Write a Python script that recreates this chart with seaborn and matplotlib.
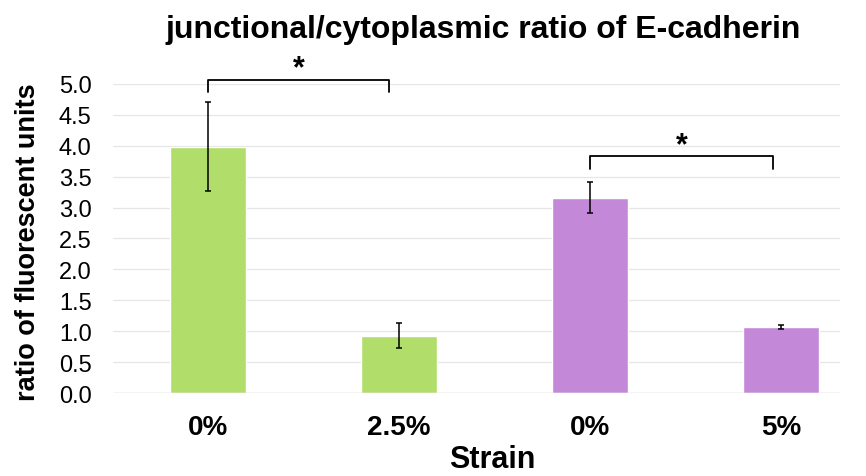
import matplotlib
matplotlib.use("Agg")
import matplotlib.pyplot as plt
import pandas as pd
import seaborn as sns

# data
groups = ["g1_0", "g1_25", "g2_0", "g2_5"]
tick_labels = ["0%", "2.5%", "0%", "5%"]
ratios = [3.98, 0.93, 3.16, 1.07]
errors = [0.72, 0.21, 0.25, 0.03]
bar_colors = ["#b1de6a", "#b1de6a", "#c488d8", "#c488d8"]

# significance brackets: (left bar, right bar, y top, y leg bottom)
brackets = [(0, 0.95, 5.07, 4.87), (2, 2.96, 3.83, 3.63)]

sns.set_theme(style="whitegrid")
plt.rcParams["font.family"] = ["Liberation Sans", "DejaVu Sans"]
plt.rcParams["text.color"] = "black"
plt.rcParams["axes.labelcolor"] = "black"
plt.rcParams["xtick.color"] = "black"
plt.rcParams["ytick.color"] = "black"

df = pd.DataFrame({"group": groups, "ratio": ratios})

fig = plt.figure(figsize=(8.66, 4.77), dpi=100)
ax = fig.add_axes([0.130, 0.174, 0.840, 0.648])

sns.barplot(data=df, x="group", y="ratio", hue="group", palette=bar_colors,
            order=groups, width=0.4, legend=False, errorbar=None, ax=ax,
            saturation=1)
ax.errorbar(range(len(groups)), ratios, yerr=errors, fmt="none",
            ecolor="black", elinewidth=1.1, capsize=2.5, capthick=1.1)

for x0, x1, ytop, ybot in brackets:
    ax.plot([x0, x0, x1, x1], [ybot, ytop, ytop, ybot], color="black",
            lw=1.3, clip_on=False)
    ax.text((x0 + x1) / 2, ytop - 0.06, "*", ha="center", va="bottom",
            fontsize=22, fontweight="bold", clip_on=False)

ax.set_ylim(0, 5.0)
ax.set_xlim(-0.5, 3.31)
ax.set_yticks([i * 0.5 for i in range(11)])
ax.set_yticklabels([f"{i * 0.5:.1f}" for i in range(11)], fontsize=17)
ax.set_xticks(range(len(groups)))
ax.set_xticklabels(tick_labels, fontsize=20, fontweight="bold")
ax.tick_params(axis="x", pad=9)
ax.tick_params(axis="y", pad=15, length=0)
ax.grid(axis="y", color="#e6e6e6", lw=0.9)
ax.grid(axis="x", visible=False)
for s in ax.spines.values():
    s.set_visible(False)
ax.axhline(0, color="#d9d9d9", lw=1)

ax.set_xlabel("Strain", fontsize=22, fontweight="bold")
ax.xaxis.set_label_coords(0.522, -0.165)
ax.set_ylabel("ratio of fluorescent units", fontsize=19.5, fontweight="bold")
ax.yaxis.set_label_coords(-0.098, 0.49)
fig.text(0.558, 0.937, "junctional/cytoplasmic ratio of E-cadherin",
         ha="center", va="center", fontsize=23, fontweight="bold")

fig.savefig("out.png", dpi=100)
